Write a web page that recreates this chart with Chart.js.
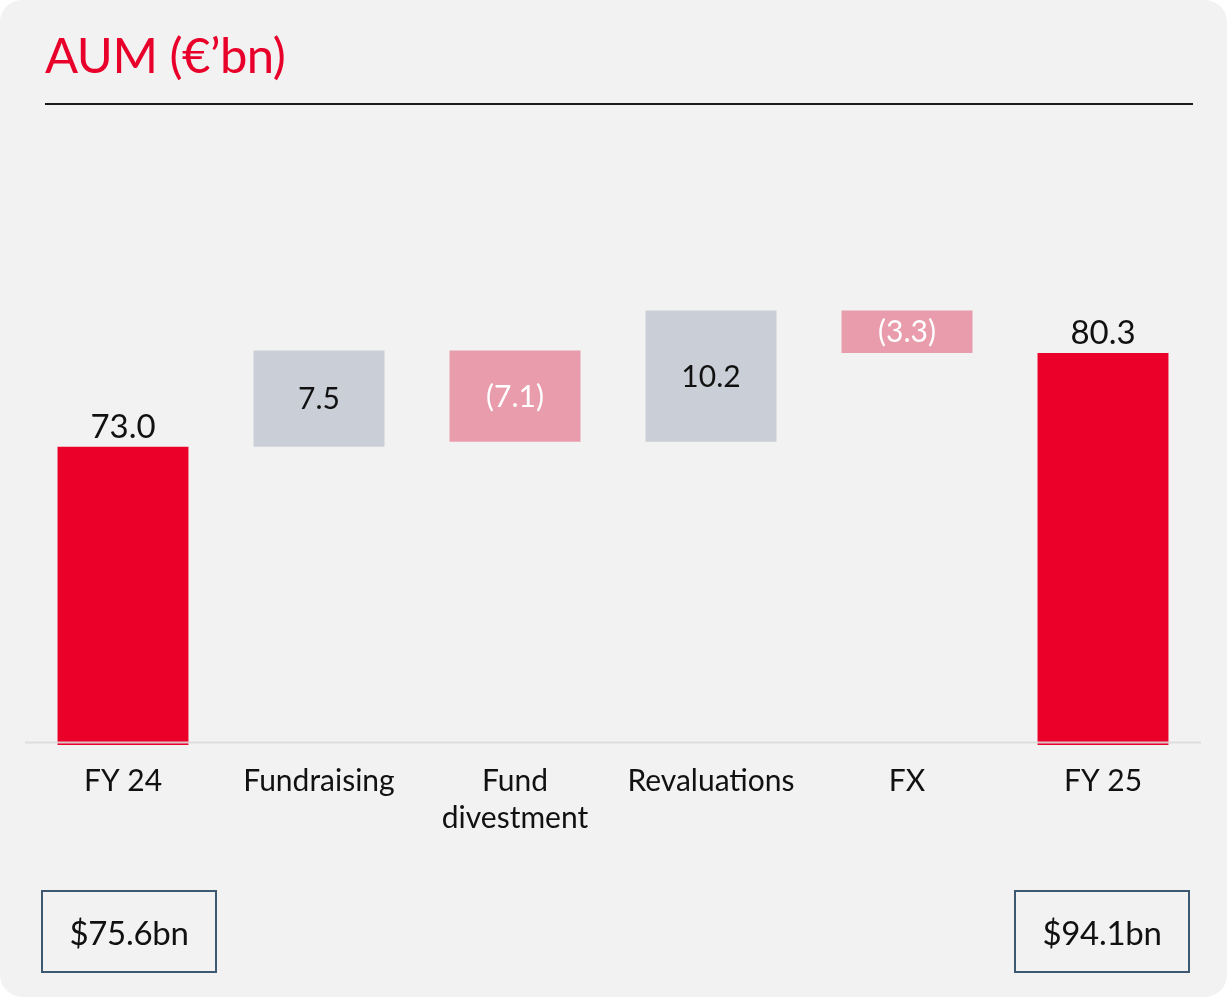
<!DOCTYPE html>
<html lang="en">

<head>
    <meta charset="UTF-8">
    <title>AUM bridge</title>
    <script src="https://cdn.jsdelivr.net/npm/chart.js"></script>
    <style>
        body {
            margin: 0;
            background: #ffffff;
            font-family: Lato, "Open Sans", sans-serif;
        }

        #panel {
            position: relative;
            width: 1227px;
            height: 997px;
            background: #f2f2f2;
            border-radius: 22px;
            overflow: hidden;
        }

        #title {
            position: absolute;
            left: 45px;
            top: 25px;
            margin: 0;
            font-size: 49px;
            font-weight: 400;
            color: #e8002b;
            letter-spacing: -0.5px;
        }

        #rule {
            position: absolute;
            left: 45px;
            top: 103px;
            width: 1148px;
            height: 2px;
            background: #1a1a1a;
        }

        #chart-wrap {
            position: absolute;
            left: 0;
            top: 0;
            width: 1227px;
            height: 997px;
        }

        .usd {
            position: absolute;
            top: 890px;
            width: 172px;
            height: 79px;
            border: 2px solid #3e5a72;
            display: flex;
            align-items: center;
            justify-content: center;
            font-size: 33px;
            letter-spacing: -0.3px;
            color: #111;
        }
    </style>
</head>

<body>
    <div id="panel">
        <h1 id="title">AUM (€’bn)</h1>
        <div id="rule"></div>
        <div id="chart-wrap"><canvas id="bridge"></canvas></div>
        <div class="usd" id="usd-open" style="left:41px"></div>
        <div class="usd" id="usd-close" style="left:1014px"></div>
    </div>

    <script>
        // AUM bridge, €bn
        const categories = ['FY 24', 'Fundraising', ['Fund', 'divestment'], 'Revaluations', 'FX', 'FY 25'];
        const openingAum = 73.0;
        const closingAum = 80.3;
        const movements = [7.5, -7.1, 10.2, -3.3];
        const usdLabels = ['$75.6bn', '$94.1bn'];

        // value axis is cut off below 50
        const Y_MIN = 49.8;
        const Y_MAX = 95;
        const AXIS_LINE_AT = 50;

        const RED = '#eb0029';
        const GREY = '#cacfd7';
        const PINK = '#e89cac';

        document.getElementById('usd-open').textContent = usdLabels[0];
        document.getElementById('usd-close').textContent = usdLabels[1];

        // floating ranges for the waterfall
        const ranges = [[Y_MIN, openingAum]];
        const kinds = ['total'];
        let running = openingAum;
        movements.forEach(d => {
            ranges.push([running, running + d]);
            kinds.push(d >= 0 ? 'up' : 'down');
            running += d;
        });
        ranges.push([Y_MIN, closingAum]);
        kinds.push('total');

        const values = [openingAum, ...movements, closingAum];
        const colors = kinds.map(k => k === 'total' ? RED : (k === 'up' ? GREY : PINK));

        function fmt(v) {
            return v < 0 ? '(' + Math.abs(v).toFixed(1) + ')' : v.toFixed(1);
        }

        // thin axis line drawn across the bars
        const baseLine = {
            id: 'baseLine',
            afterDatasetsDraw(chart) {
                const { ctx, chartArea, scales } = chart;
                const y = scales.y.getPixelForValue(AXIS_LINE_AT);
                ctx.save();
                ctx.strokeStyle = 'rgba(218,218,218,0.9)';
                ctx.lineWidth = 2;
                ctx.beginPath();
                ctx.moveTo(chartArea.left, y);
                ctx.lineTo(chartArea.right, y);
                ctx.stroke();
                ctx.restore();
            }
        };

        // value labels: above the totals, centred inside the movements
        const barLabels = {
            id: 'barLabels',
            afterDatasetsDraw(chart) {
                const { ctx } = chart;
                const meta = chart.getDatasetMeta(0);
                ctx.save();
                ctx.textAlign = 'center';
                meta.data.forEach((bar, i) => {
                    const p = bar.getProps(['x', 'y', 'base'], true);
                    const top = Math.min(p.y, p.base);
                    if (kinds[i] === 'total') {
                        ctx.font = '33px Lato';
                        ctx.fillStyle = '#111';
                        ctx.textBaseline = 'alphabetic';
                        ctx.fillText(fmt(values[i]), p.x, top - 9);
                    } else {
                        ctx.font = '30px Lato';
                        ctx.fillStyle = kinds[i] === 'up' ? '#111' : '#ffffff';
                        ctx.textBaseline = 'middle';
                        ctx.fillText(fmt(values[i]), p.x, (p.y + p.base) / 2 + 1);
                    }
                });
                ctx.restore();
            }
        };

        new Chart(document.getElementById('bridge'), {
            type: 'bar',
            data: {
                labels: categories,
                datasets: [{
                    data: ranges,
                    backgroundColor: colors,
                    borderWidth: 0,
                    categoryPercentage: 1,
                    barPercentage: 0.668
                }]
            },
            options: {
                responsive: true,
                maintainAspectRatio: false,
                animation: false,
                layout: {
                    padding: { left: 25, right: 26, top: 164, bottom: 142 }
                },
                plugins: {
                    legend: { display: false },
                    tooltip: { enabled: false }
                },
                scales: {
                    x: {
                        grid: { display: false, drawTicks: false },
                        border: { display: false },
                        ticks: {
                            color: '#111',
                            padding: 17,
                            maxRotation: 0,
                            autoSkip: false,
                            font: { family: 'Lato', size: 30, lineHeight: 1.26 }
                        },
                        afterFit(axis) { axis.height = 110; }
                    },
                    y: {
                        display: false,
                        min: Y_MIN,
                        max: Y_MAX
                    }
                }
            },
            plugins: [baseLine, barLabels]
        });
    </script>
</body>

</html>
